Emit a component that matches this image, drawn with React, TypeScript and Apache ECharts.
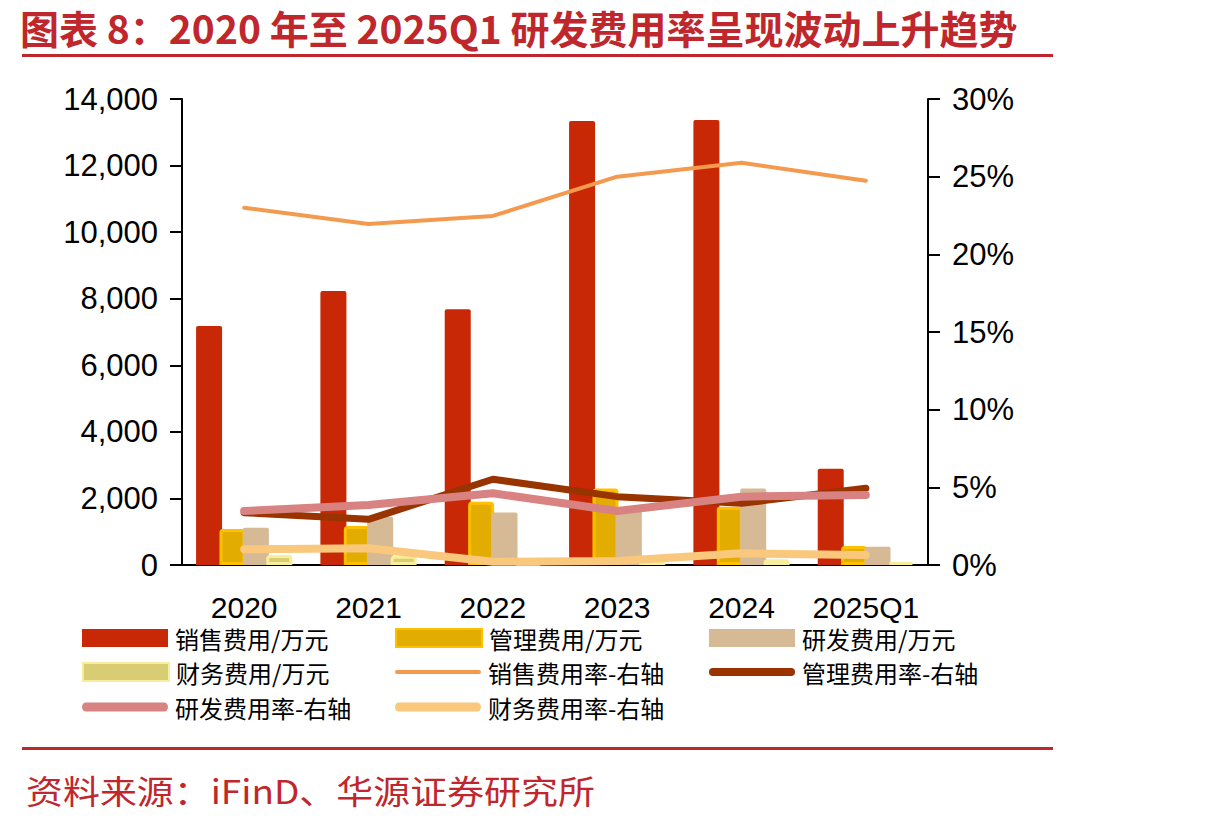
import React, { useEffect, useRef } from "react";
import * as echarts from "echarts";

const categories = ["2020", "2021", "2022", "2023", "2024", "2025Q1"];
const salesExp = [7180, 8230, 7680, 13340, 13370, 2890];
const adminExp = [1080, 1170, 1900, 2300, 1750, 570];
const rdExp = [1120, 1450, 1580, 1650, 2300, 550];
const finExp = [300, 280, 40, 120, 170, 90];
const salesRate = [23.0, 21.95, 22.47, 25.0, 25.9, 24.74];
const adminRate = [3.37, 2.94, 5.52, 4.4, 3.97, 4.94];
const rdRate = [3.48, 3.86, 4.62, 3.48, 4.4, 4.51];
const finRate = [1.01, 1.08, 0.21, 0.26, 0.75, 0.64];
const leftTicks = { min: 0, max: 14000, interval: 2000 };
const rightTicks = { min: 0, max: 30, interval: 5 };

const TITLE = "图表 8：2020 年至 2025Q1 研发费用率呈现波动上升趋势";
const SOURCE = "资料来源：iFinD、华源证券研究所";

const RED = "#C0272D";
const AX_FONT = "'Liberation Sans', Arial, sans-serif";
const CJK = "'Noto Sans CJK SC', sans-serif";

const capsuleThick = "path://M4,0 L82,0 A4,4 0 0 1 82,8 L4,8 A4,4 0 0 1 4,0 Z";
const capsuleThin = "path://M2,0 L84,0 A2,2 0 0 1 84,4 L2,4 A2,2 0 0 1 2,0 Z";

export default function App() {
  const ref = useRef<HTMLDivElement>(null);
  useEffect(() => {
    document.body.style.margin = "0";
    const chart = echarts.init(ref.current!, null, { renderer: "svg" });
    const mkLegend = (name: string, left: number, top: number, h: number, icon: string) => ({
      data: [{ name, icon }],
      left,
      top,
      padding: 0,
      itemWidth: 86,
      itemHeight: h,
      itemGap: 0,
      symbolKeepAspect: false,
      selectedMode: false,
      textStyle: { fontSize: 24, color: "#000", fontFamily: CJK, padding: [0, 0, 0, 2] },
    });
    const rowTop = [626, 660, 695];
    const colLeft = [82, 395, 709];
    chart.setOption({
      animation: false,
      grid: { left: 182, right: 282, top: 99, bottom: 257 },
      graphic: [
        {
          type: "text",
          x: 20,
          y: 27,
          style: {
            text: TITLE,
            fontSize: 39,
            fontWeight: "bold",
            fontFamily: CJK,
            fill: RED,
            verticalAlign: "middle",
          },
        },
        { type: "rect", shape: { x: 22, y: 54, width: 1031, height: 3 }, style: { fill: RED } },
        { type: "rect", shape: { x: 22, y: 747, width: 1031, height: 3 }, style: { fill: RED } },
        {
          type: "text",
          x: 26,
          y: 789,
          scaleX: 1.12,
          style: { text: SOURCE, fontSize: 33, fontFamily: CJK, fill: RED, verticalAlign: "middle" },
        },
      ],
      legend: [
        mkLegend("销售费用/万元", colLeft[0], rowTop[0], 18, "rect"),
        mkLegend("管理费用/万元", colLeft[1], rowTop[0], 18, "rect"),
        mkLegend("研发费用/万元", colLeft[2], rowTop[0], 18, "rect"),
        mkLegend("财务费用/万元", colLeft[0], rowTop[1], 18, "rect"),
        mkLegend("销售费用率-右轴", colLeft[1], rowTop[1], 4, capsuleThin),
        mkLegend("管理费用率-右轴", colLeft[2], rowTop[1], 8, capsuleThick),
        mkLegend("研发费用率-右轴", colLeft[0], rowTop[2], 9, capsuleThick),
        mkLegend("财务费用率-右轴", colLeft[1], rowTop[2], 9, capsuleThick),
      ],
      xAxis: {
        type: "category",
        data: categories,
        axisLine: { lineStyle: { color: "#000", width: 2 } },
        axisTick: { length: 12, lineStyle: { color: "#000", width: 2 } },
        axisLabel: { fontSize: 30, color: "#000", fontFamily: AX_FONT, margin: 27, interval: 0 },
      },
      yAxis: [
        {
          type: "value",
          ...leftTicks,
          splitLine: { show: false },
          axisLine: { show: true, lineStyle: { color: "#000", width: 2 } },
          axisTick: { show: true, length: 12, lineStyle: { color: "#000", width: 2 } },
          axisLabel: {
            fontSize: 31,
            color: "#000",
            fontFamily: AX_FONT,
            margin: 24,
            formatter: (v: number) => v.toLocaleString("en-US"),
          },
        },
        {
          type: "value",
          ...rightTicks,
          position: "right",
          splitLine: { show: false },
          axisLine: { show: true, lineStyle: { color: "#000", width: 2 } },
          axisTick: { show: true, length: 12, lineStyle: { color: "#000", width: 2 } },
          axisLabel: { fontSize: 31, color: "#000", fontFamily: AX_FONT, margin: 24, formatter: "{value}%" },
        },
      ],
      series: [
        {
          name: "销售费用/万元",
          type: "bar",
          data: salesExp,
          barWidth: 26,
          barGap: "-10%",
          itemStyle: { color: "#C82805", borderRadius: [2, 2, 0, 0] },
        },
        {
          name: "管理费用/万元",
          type: "bar",
          data: adminExp,
          barWidth: 26,
          barGap: "-10%",
          itemStyle: { color: "#E3AC00", borderColor: "#FFC000", borderWidth: 3, borderRadius: [2, 2, 0, 0] },
        },
        {
          name: "研发费用/万元",
          type: "bar",
          data: rdExp,
          barWidth: 26,
          barGap: "-10%",
          itemStyle: { color: "#D6B995", borderRadius: [2, 2, 0, 0] },
        },
        {
          name: "财务费用/万元",
          type: "bar",
          data: finExp,
          barWidth: 26,
          barGap: "-10%",
          itemStyle: { color: "#D9CD73", borderColor: "#F7EE9B", borderWidth: 3, borderRadius: [2, 2, 0, 0] },
        },
        {
          name: "销售费用率-右轴",
          type: "line",
          yAxisIndex: 1,
          data: salesRate,
          symbol: "none",
          color: "#F39A4E",
          itemStyle: { color: "#F39A4E", borderWidth: 0 },
          lineStyle: { color: "#F39A4E", width: 4, cap: "round", join: "round" },
          z: 5,
        },
        {
          name: "管理费用率-右轴",
          type: "line",
          yAxisIndex: 1,
          data: adminRate,
          symbol: "none",
          color: "#993300",
          itemStyle: { color: "#993300", borderWidth: 0 },
          lineStyle: { color: "#993300", width: 7, cap: "round", join: "round" },
          z: 5,
        },
        {
          name: "研发费用率-右轴",
          type: "line",
          yAxisIndex: 1,
          data: rdRate,
          symbol: "none",
          color: "#D88282",
          itemStyle: { color: "#D88282", borderWidth: 0 },
          lineStyle: { color: "#D88282", width: 8, cap: "round", join: "round" },
          z: 6,
        },
        {
          name: "财务费用率-右轴",
          type: "line",
          yAxisIndex: 1,
          data: finRate,
          symbol: "none",
          color: "#FAC87C",
          itemStyle: { color: "#FAC87C", borderWidth: 0 },
          lineStyle: { color: "#FAC87C", width: 8, cap: "round", join: "round" },
          z: 6,
        },
      ],
    });
    return () => chart.dispose();
  }, []);
  return <div ref={ref} style={{ width: 1210, height: 822 }} />;
}
